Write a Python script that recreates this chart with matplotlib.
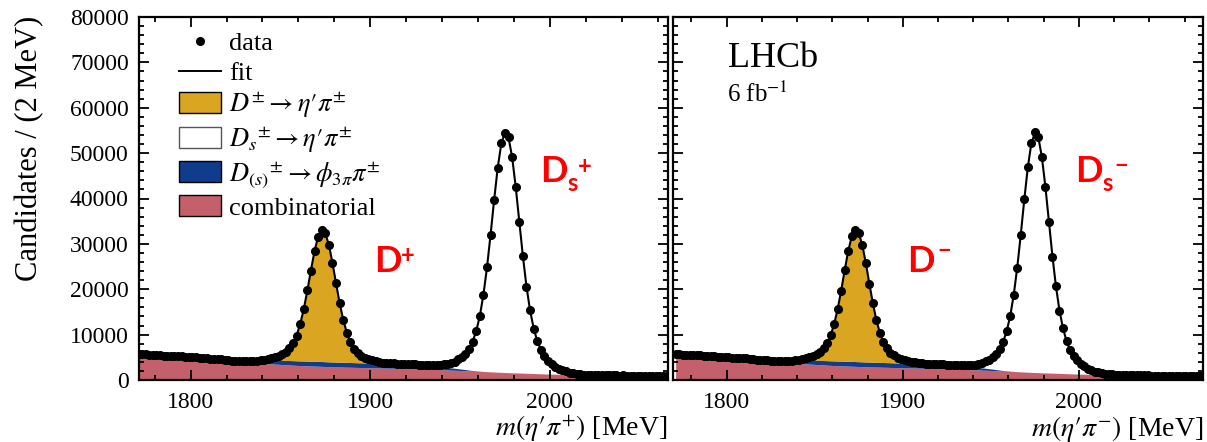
import numpy as np
import matplotlib
matplotlib.use("Agg")
import matplotlib.pyplot as plt
from matplotlib.lines import Line2D
from matplotlib.patches import Patch
from matplotlib.ticker import MultipleLocator

plt.rcParams['font.family'] = ['Liberation Serif', 'DejaVu Serif']
plt.rcParams['mathtext.fontset'] = 'stix'

# ---------------- data (2 MeV bins, centres 1771 ... 2069 MeV) ----------------
bin_first, bin_last, bin_width = 1771, 2069, 2

data_plus = [
    5760, 5630, 5650, 5540, 5560, 5450, 5470, 5380, 5390, 5280, 5290, 5190, 5200, 5090, 5100,
    4990, 4990, 4870, 4860, 4810, 4700, 4690, 4580, 4550, 4430, 4400, 4290, 4260, 4150, 4160,
    4100, 4150, 4160, 4280, 4330, 4490, 4600, 4810, 5020, 5360, 5700, 6280, 6990, 8180, 9800,
    12330, 15560, 19740, 24130, 28470, 31540, 33080, 32300, 29810, 25730, 21310, 16860, 13250, 10340, 8380,
    6940, 6060, 5370, 4950, 4570, 4340, 4110, 3990, 3840, 3780, 3680, 3650, 3570, 3560, 3490,
    3500, 3430, 3440, 3360, 3350, 3280, 3290, 3250, 3300, 3310, 3440, 3550, 3800, 4060, 4520,
    5020, 5830, 6850, 8460, 10710, 14100, 18700, 24810, 31980, 39760, 46800, 52180, 54430, 53470, 49090,
    42590, 34800, 27300, 20560, 15340, 11330, 8620, 6610, 5320, 4260, 3570, 2940, 2520, 2130, 1900,
    1650, 1530, 1370, 1320, 1210, 1200, 1130, 1130, 1070, 1080, 1030, 1050, 1010, 1030, 990,
    1010, 970, 990, 950, 970, 930, 950, 910, 930, 890, 900, 870, 880, 850, 860,
]

data_minus = [
    5680, 5690, 5590, 5600, 5500, 5510, 5420, 5420, 5320, 5330, 5230, 5240, 5140, 5150, 5040,
    5050, 4930, 4920, 4860, 4760, 4750, 4640, 4620, 4500, 4480, 4360, 4330, 4220, 4190, 4120,
    4140, 4110, 4200, 4230, 4370, 4440, 4640, 4770, 5070, 5310, 5750, 6220, 7050, 8110, 9870,
    12250, 15650, 19650, 24230, 28370, 31640, 32980, 32410, 29700, 25840, 21220, 16950, 13170, 10400, 8320,
    6990, 6010, 5420, 4910, 4610, 4300, 4150, 3950, 3870, 3740, 3710, 3620, 3610, 3530, 3530,
    3460, 3460, 3400, 3390, 3310, 3310, 3250, 3290, 3270, 3350, 3410, 3590, 3760, 4110, 4470,
    5070, 5780, 6900, 8410, 10760, 14050, 18760, 24750, 32050, 39800, 46920, 52250, 54700, 53600, 49200,
    42500, 34900, 27200, 20650, 15270, 11400, 8560, 6680, 5260, 4310, 3520, 2980, 2480, 2170, 1860,
    1680, 1490, 1400, 1290, 1240, 1170, 1150, 1100, 1100, 1060, 1060, 1030, 1030, 1000, 1010,
    980, 990, 960, 970, 940, 950, 920, 930, 900, 910, 880, 890, 860, 870, 840,
]

# fit components (same bins)
fit_comb = [
    5700, 5657, 5614, 5571, 5529, 5486, 5443, 5400, 5353, 5307, 5260, 5213, 5167, 5120, 5073,
    5020, 4960, 4900, 4840, 4780, 4720, 4660, 4600, 4527, 4453, 4380, 4307, 4233, 4160, 4087,
    4017, 3950, 3883, 3817, 3750, 3683, 3617, 3550, 3503, 3457, 3410, 3363, 3317, 3270, 3223,
    3185, 3155, 3125, 3095, 3065, 3035, 3005, 2975, 2945, 2915, 2890, 2870, 2850, 2830, 2810,
    2790, 2770, 2750, 2730, 2710, 2692, 2676, 2660, 2644, 2628, 2612, 2596, 2580, 2564, 2548,
    2532, 2516, 2500, 2468, 2436, 2404, 2372, 2340, 2308, 2276, 2244, 2212, 2180, 2148, 2116,
    2082, 2046, 2010, 1974, 1938, 1902, 1866, 1830, 1794, 1758, 1722, 1686, 1650, 1622, 1594,
    1566, 1538, 1510, 1482, 1454, 1426, 1398, 1370, 1342, 1314, 1292, 1275, 1258, 1242, 1225,
    1208, 1192, 1175, 1158, 1142, 1125, 1108, 1092, 1075, 1058, 1045, 1035, 1024, 1014, 1004,
    994, 983, 973, 963, 953, 942, 932, 922, 912, 901, 891, 881, 871, 860, 850,
]

fit_phi3pi = [0] * 29 + [
    40, 75, 140, 225, 325, 425, 525, 625, 710, 790, 850, 900, 940, 970, 995, 1010, 1025, 1035,
    1045, 1050, 1055, 1060, 1062, 1062, 1062, 1060, 1058, 1055, 1052, 1050, 1046, 1042, 1038,
    1035, 1030, 1027, 1022, 1018, 1012, 1006, 1000, 993, 985, 975, 962, 950, 935, 918, 900,
    875, 850, 818, 785, 748, 706, 660, 610, 556, 498, 435, 370, 302, 238, 175, 120, 75, 40, 18, 6,
] + [0] * 52

fit_D = [0] * 27 + [
    6, 10, 17, 28, 46, 73, 116, 174, 261, 377, 534, 748, 1032, 1415, 1952, 2729, 3886, 5606,
    8079, 11414, 15524, 20039, 24296, 27501, 28959, 28324, 25749, 21814, 17313, 12980, 9309,
    6493, 4495, 3135, 2227, 1610, 1172, 856, 609, 435, 302, 206, 136, 90, 55, 35, 20, 12, 7,
] + [0] * 74

fit_Ds = [0] * 75 + [
    8, 12, 20, 32, 48, 74, 116, 180, 270, 397, 571, 799, 1100, 1502, 2010, 2661, 3523, 4692,
    6343, 8723, 12135, 16843, 22943, 30216, 37966, 45129, 50440, 52831, 51789, 47547, 40976,
    33311, 25741, 19118, 13849, 9945, 7189, 5279, 3946, 2973, 2248, 1688, 1243, 910, 651, 460,
    317, 212, 143, 90, 58, 37, 24, 15, 9, 5,
] + [0] * 19

PR = "\u2032"
legend_labels = ["data", "fit",
                 r"$D^{\pm}\rightarrow\eta" + PR + r"\pi^{\pm}$",
                 r"$D_{s}{}^{\pm}\rightarrow\eta" + PR + r"\pi^{\pm}$",
                 r"$D_{(s)}{}^{\pm}\rightarrow\phi_{3\pi}\pi^{\pm}$",
                 "combinatorial"]
xlabels = [r"$m(\eta" + PR + r"\pi^{+})$ [MeV]", r"$m(\eta" + PR + r"\pi^{-})$ [MeV]"]
ylabel = "Candidates / (2 MeV)"

# ---------------- styling ----------------
C_PINK = "#C4606C"
C_BLUE = "#103C8C"
C_YEL = "#DAA520"
C_RED = "#FF0000"

W, H = 1207, 442
fig = plt.figure(figsize=(W / 100, H / 100), dpi=100)

mass = np.arange(bin_first, bin_last + 1, bin_width)
comb = np.array(fit_comb, float)
phi = np.array(fit_phi3pi, float)
sD = np.array(fit_D, float)
sDs = np.array(fit_Ds, float)
lvl1 = comb
lvl2 = comb + phi
lvl3 = lvl2 + sD
total = lvl3 + sDs

axL = fig.add_axes([138.5 / W, (H - 380) / H, 529 / W, 363 / H])
axR = fig.add_axes([673 / W, (H - 380) / H, 530 / W, 363 / H])


def draw(ax, data, xlim, xlabel):
    ax.fill_between(mass, 0, lvl1, color=C_PINK, lw=0, zorder=1)
    ax.fill_between(mass, lvl1, lvl2, color=C_BLUE, lw=0, zorder=1)
    ax.fill_between(mass, lvl2, lvl3, color=C_YEL, lw=0, zorder=1)
    ax.plot(mass, total, color="k", lw=1.5, zorder=2)
    ax.plot(mass, data, "o", color="k", ms=5.5, zorder=3)
    ax.set_xlim(*xlim)
    ax.set_ylim(0, 80000)
    ax.xaxis.set_major_locator(MultipleLocator(100))
    ax.xaxis.set_minor_locator(MultipleLocator(20))
    ax.yaxis.set_major_locator(MultipleLocator(10000))
    ax.yaxis.set_minor_locator(MultipleLocator(2000))
    ax.tick_params(which="both", direction="in", top=True, right=True,
                   width=1.3, labelsize=17)
    ax.tick_params(which="major", length=7)
    ax.tick_params(which="minor", length=3.5)
    ax.tick_params(axis="x", pad=9)
    ax.tick_params(axis="y", pad=7)
    for sp in ax.spines.values():
        sp.set_linewidth(1.6)
    ax.set_xlabel(xlabel, fontsize=20, loc="right", labelpad=0)


draw(axL, data_plus, (1771, 2065.5), xlabels[0])
draw(axR, data_minus, (1769.5, 2070.5), xlabels[1])
axR.tick_params(labelleft=False)

axL.set_ylabel(ylabel, fontsize=22)
axL.yaxis.set_label_coords((44 - 138.5) / 529, (380 - 148) / 363)

handles = [
    Line2D([], [], ls="none", marker="o", color="k", ms=5.5),
    Line2D([], [], color="k", lw=1.4),
    Patch(facecolor=C_YEL, edgecolor="k", lw=1.0),
    Patch(facecolor="white", edgecolor="#555555", lw=1.0),
    Patch(facecolor=C_BLUE, edgecolor="k", lw=1.0),
    Patch(facecolor=C_PINK, edgecolor="k", lw=1.0),
]
axL.legend(handles, legend_labels, loc="upper left", bbox_to_anchor=(0.076, 0.962),
           frameon=False, fontsize=19, borderpad=0, borderaxespad=0,
           handlelength=1.6, handleheight=0.85, handletextpad=0.3, labelspacing=0.2)

# LHCb label
fig.text(728 / W, 1 - 67 / H, "LHCb", fontsize=26, ha="left", va="baseline")
fig.text(727 / W, 1 - 102 / H, r"6 fb$^{-1}$", fontsize=18, ha="left", va="baseline")

# red peak labels
RF = ["Lato", "DejaVu Sans"]


def rtext(x, y, s, size):
    fig.text(x / W, 1 - y / H, s, color=C_RED, fontsize=size, fontweight="bold",
             family=RF, ha="left", va="baseline")


rtext(374, 272, "D", 26)
rtext(401, 263, "+", 17)
rtext(540, 182, "D", 26)
rtext(567, 191, "s", 17)
rtext(578, 174, "+", 17)
rtext(907, 272, "D", 26)
rtext(937, 258, "\u2212", 17)
rtext(1075, 182, "D", 26)
rtext(1102, 191, "s", 17)
rtext(1114, 173, "\u2212", 17)

fig.savefig("out.png", dpi=100)
